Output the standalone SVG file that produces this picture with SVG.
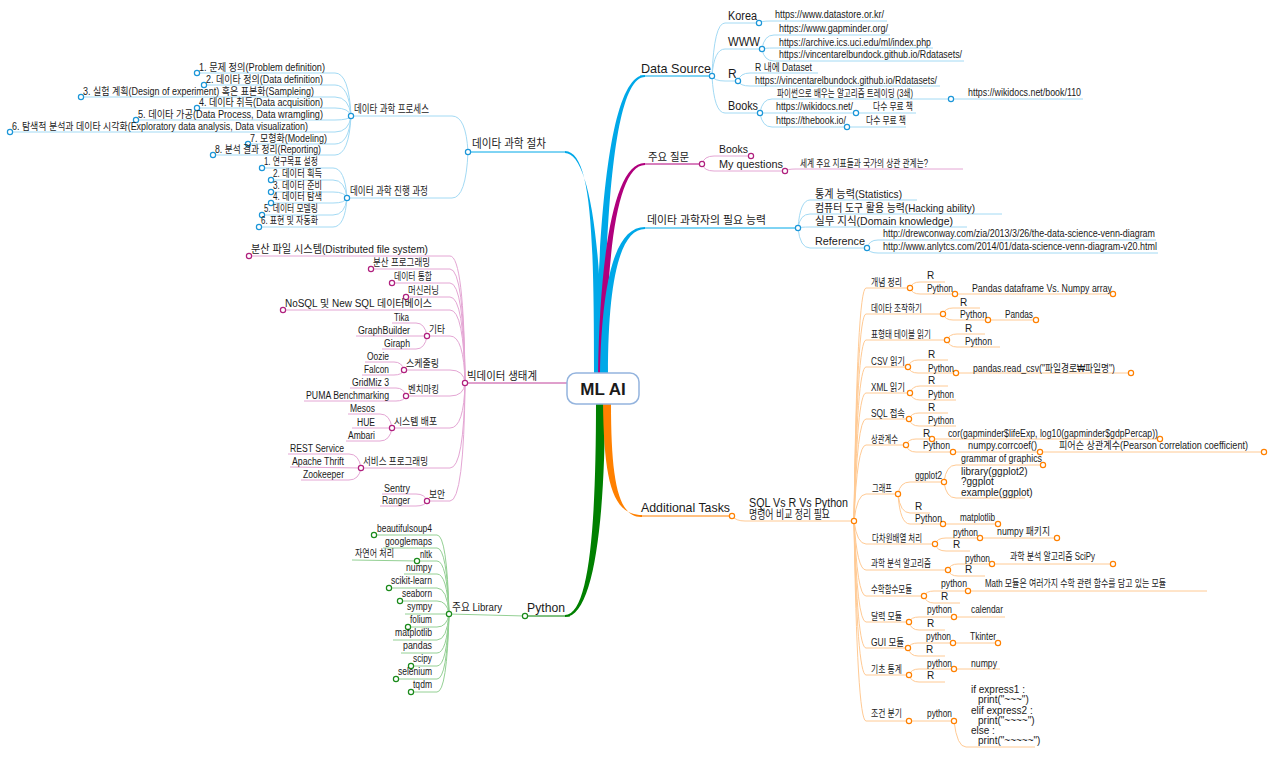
<svg xmlns="http://www.w3.org/2000/svg" width="1280" height="757" viewBox="0 0 1280 757">
<style>
text{font-family:"Liberation Sans","Noto Sans CJK KR",sans-serif;fill:#1a1a1a;font-size:10px}
.s11{font-size:11px}.s12{font-size:12px}.s13{font-size:13px}
.lb{fill:none;stroke:#a3daf4;stroke-width:1}
.lm{fill:none;stroke:#e4a6d4;stroke-width:1}
.lg{fill:none;stroke:#94d094;stroke-width:1}
.lo{fill:none;stroke:#ffca94;stroke-width:1}
.cb{fill:#fff;stroke:#1b96d8;stroke-width:1.2}
.cm{fill:#fff;stroke:#b0207e;stroke-width:1.2}
.cg{fill:#fff;stroke:#1a8a1a;stroke-width:1.2}
.co{fill:#fff;stroke:#ff8000;stroke-width:1.2}
</style>
<rect width="1280" height="757" fill="#fff"/>
<g id="connectors">
<!-- thick main branches -->
<path fill="#00a8e8" d="M594 374 C594 230 591 152 565 151 L565 153 C587 153 602 230 602 374 Z"/>
<path fill="#00a8e8" d="M596 374 C598 200 612 75 645 75 L645 77 C616 77 605 200 604 374 Z"/>
<path fill="#b0007c" d="M598 374 C600 250 615 162 645 163 L645 165 C618 165 606 250 606 374 Z"/>
<path fill="#00a8e8" d="M600 374 C602 280 615 227 645 227 L645 229 C620 229 608 280 608 374 Z"/>
<path fill="#008000" d="M596 403 C596 520 590 615 565 615 L565 617 C594 617 605 520 605 403 Z"/>
<path fill="#ff8000" d="M603 403 C604 480 612 515 642 515 L642 517 C618 518 611 480 611 403 Z"/>
<!-- level 1 underlines -->
<path fill="none" stroke="#00a8e8" d="M565 152 L468 152"/>
<path fill="none" stroke="#00a8e8" d="M640 76 L712 76"/>
<path fill="none" stroke="#b0007c" d="M645 164 L702 164"/>
<path fill="none" stroke="#00a8e8" d="M645 228 L798 228"/>
<path fill="none" stroke="#008000" d="M570 616 L525 616"/>
<path fill="none" stroke="#ff8000" d="M640 516 L732 516"/>
<path fill="none" stroke="#c0409a" d="M567 383 L465 383"/>
<!-- data science procedure -->
<path class="lb" d="M468 152 Q466 116 452 116 L351 116"/>
<path class="lb" d="M468 152 Q466 198 452 198 L347 198"/>
<path class="lb" d="M351 116 Q349 73 335 73 L197 73"/>
<path class="lb" d="M351 116 Q349 85 335 85 L204 85"/>
<path class="lb" d="M351 116 Q349 97 335 97 L81 97"/>
<path class="lb" d="M351 116 Q349 108 335 108 L197 108"/>
<path class="lb" d="M351 116 Q349 120 335 120 L136 120"/>
<path class="lb" d="M351 116 Q349 132 335 132 L10 132"/>
<path class="lb" d="M351 116 Q349 144 335 144 L248 144"/>
<path class="lb" d="M351 116 Q349 155 335 155 L213 155"/>
<path class="lb" d="M347 198 Q345 168 333 168 L262 168"/>
<path class="lb" d="M347 198 Q345 180 333 180 L271 180"/>
<path class="lb" d="M347 198 Q345 192 333 192 L271 192"/>
<path class="lb" d="M347 198 Q345 203 333 203 L271 203"/>
<path class="lb" d="M347 198 Q345 215 333 215 L262 215"/>
<path class="lb" d="M347 198 Q345 227 333 227 L259 227"/>
<!-- big data -->
<path class="lm" d="M465 383 Q464 256 450 256 L249 256"/>
<path class="lm" d="M465 383 Q464 269 450 269 L371 269"/>
<path class="lm" d="M465 383 Q464 283 450 283 L392 283"/>
<path class="lm" d="M465 383 Q464 297 450 297 L406 297"/>
<path class="lm" d="M465 383 Q464 310 450 310 L283 310"/>
<path class="lm" d="M465 383 Q464 336 450 336 L427 336"/>
<path class="lm" d="M465 383 Q464 370 450 370 L404 370"/>
<path class="lm" d="M465 383 Q464 396 450 396 L406 396"/>
<path class="lm" d="M465 383 Q464 428 450 428 L392 428"/>
<path class="lm" d="M465 383 Q464 468 450 468 L361 468"/>
<path class="lm" d="M465 383 Q464 501 450 501 L427 501"/>
<path class="lm" d="M427 336 Q425 323 416 323 L392 323"/>
<path class="lm" d="M427 336 L356 336"/>
<path class="lm" d="M427 336 Q425 349 416 349 L382 349"/>
<path class="lm" d="M404 370 Q402 362 394 362 L365 362"/>
<path class="lm" d="M404 370 Q402 375 394 375 L362 375"/>
<path class="lm" d="M406 396 Q404 388 396 388 L350 388"/>
<path class="lm" d="M406 396 Q404 401 396 401 L304 401"/>
<path class="lm" d="M392 428 Q390 414 380 414 L348 414"/>
<path class="lm" d="M392 428 L352 428"/>
<path class="lm" d="M392 428 Q390 441 380 441 L346 441"/>
<path class="lm" d="M361 468 Q359 454 349 454 L288 454"/>
<path class="lm" d="M361 468 L290 467"/>
<path class="lm" d="M361 468 Q359 480 349 480 L301 480"/>
<path class="lm" d="M427 501 Q425 494 416 494 L382 494"/>
<path class="lm" d="M427 501 Q425 506 416 506 L380 506"/>
<!-- python -->
<path class="lg" d="M525 616 L449 614"/>
<path class="lg" d="M449 614 Q447 535 437 535 L374 535"/>
<path class="lg" d="M449 614 Q447 548 437 548 L383 548"/>
<path class="lg" d="M449 614 Q447 561 437 561 L417 561"/>
<path class="lg" d="M417 561 L352 560"/>
<path class="lg" d="M449 614 Q447 574 437 574 L404 574"/>
<path class="lg" d="M449 614 Q447 588 437 588 L389 588"/>
<path class="lg" d="M449 614 Q447 601 437 601 L400 601"/>
<path class="lg" d="M449 614 L405 614"/>
<path class="lg" d="M449 614 Q447 627 437 627 L408 627"/>
<path class="lg" d="M449 614 Q447 640 437 640 L393 640"/>
<path class="lg" d="M449 614 Q447 653 437 653 L401 653"/>
<path class="lg" d="M449 614 Q447 666 437 666 L411 666"/>
<path class="lg" d="M449 614 Q447 679 437 679 L396 679"/>
<path class="lg" d="M449 614 Q447 692 437 692 L411 692"/>
<!-- data source -->
<path class="lb" d="M712 76 Q714 23 725 23 L759 23"/>
<path class="lb" d="M712 76 Q714 49 725 49 L762 49"/>
<path class="lb" d="M712 76 Q714 81 725 81 L738 81"/>
<path class="lb" d="M712 76 Q714 113 725 113 L760 113"/>
<path class="lb" d="M759 23 Q761 21 770 21 L887 21"/>
<path class="lb" d="M762 49 Q764 35 774 35 L890 35"/>
<path class="lb" d="M762 49 Q764 48 774 48 L933 48"/>
<path class="lb" d="M762 49 Q764 61 774 61 L964 61"/>
<path class="lb" d="M738 81 Q740 73 750 73 L818 73"/>
<path class="lb" d="M738 81 Q740 86 750 86 L940 86"/>
<path class="lb" d="M760 113 Q762 99 772 99 L951 99"/>
<path class="lb" d="M760 113 L856 113"/>
<path class="lb" d="M760 113 Q762 127 772 127 L847 127"/>
<path class="lb" d="M951 99 L1083 99"/>
<path class="lb" d="M856 113 L916 113"/>
<path class="lb" d="M847 127 L906 127"/>
<!-- questions -->
<path class="lm" d="M702 164 Q704 156 714 156 L751 156"/>
<path class="lm" d="M702 164 Q704 171 714 171 L785 171"/>
<path class="lm" d="M785 171 Q787 169 796 169 L963 169"/>
<!-- abilities -->
<path class="lb" d="M798 228 Q800 200 810 200 L917 200"/>
<path class="lb" d="M798 228 Q800 214 810 214 L1002 214"/>
<path class="lb" d="M798 228 Q800 227 810 227 L967 227"/>
<path class="lb" d="M798 228 Q800 248 810 248 L867 248"/>
<path class="lb" d="M867 248 Q869 240 878 240 L1156 240"/>
<path class="lb" d="M867 248 Q869 253 878 253 L1158 253"/>
<!-- additional tasks -->
<path class="lo" d="M732 516 Q736 521 745 521 L854 521"/>
<path class="lo" d="M854 521 Q857 288 866 288 L910 288"/>
<path class="lo" d="M854 521 Q857 314 866 314 L943 314"/>
<path class="lo" d="M854 521 Q857 340 866 340 L947 340"/>
<path class="lo" d="M854 521 Q857 367 866 367 L908 367"/>
<path class="lo" d="M854 521 Q857 393 866 393 L910 393"/>
<path class="lo" d="M854 521 Q857 419 866 419 L909 419"/>
<path class="lo" d="M854 521 Q857 445 866 445 L906 445"/>
<path class="lo" d="M854 521 Q857 494 866 494 L898 494"/>
<path class="lo" d="M854 521 Q857 544 866 544 L935 544"/>
<path class="lo" d="M854 521 Q857 570 866 570 L948 570"/>
<path class="lo" d="M854 521 Q857 596 866 596 L924 596"/>
<path class="lo" d="M854 521 Q857 622 866 622 L909 622"/>
<path class="lo" d="M854 521 Q857 648 866 648 L908 648"/>
<path class="lo" d="M854 521 Q857 675 866 675 L909 675"/>
<path class="lo" d="M854 521 Q857 721 866 721 L909 721"/>
<path class="lo" d="M910 288 Q912 282 920 282 L945 282"/>
<path class="lo" d="M910 288 Q912 294 920 294 L955 294"/>
<path class="lo" d="M955 294 L1113 294"/>
<path class="lo" d="M943 314 Q945 308 953 308 L980 308"/>
<path class="lo" d="M943 314 Q945 320 953 320 L988 320"/>
<path class="lo" d="M988 320 L1036 320"/>
<path class="lo" d="M947 340 Q949 334 957 334 L985 334"/>
<path class="lo" d="M947 340 Q949 347 957 347 L1000 347"/>
<path class="lo" d="M908 367 Q910 360 918 360 L948 360"/>
<path class="lo" d="M908 367 Q910 373 918 373 L956 373"/>
<path class="lo" d="M956 373 L1131 373"/>
<path class="lo" d="M910 393 Q912 386 920 386 L948 386"/>
<path class="lo" d="M910 393 Q912 400 920 400 L956 400"/>
<path class="lo" d="M909 419 Q911 413 919 413 L948 413"/>
<path class="lo" d="M909 419 Q911 426 919 426 L956 426"/>
<path class="lo" d="M906 445 Q908 439 916 439 L932 439"/>
<path class="lo" d="M906 445 Q908 452 916 452 L953 452"/>
<path class="lo" d="M932 439 L1160 439"/>
<path class="lo" d="M953 452 L1040 452 L1264 452"/>
<path class="lo" d="M898 494 Q900 482 910 482 L944 482"/>
<path class="lo" d="M898 494 Q900 513 910 513 L930 513"/>
<path class="lo" d="M898 494 Q900 524 910 524 L943 524"/>
<path class="lo" d="M944 482 Q946 465 956 465 L1043 465"/>
<path class="lo" d="M944 482 Q946 498 956 498 L1025 498"/>
<path class="lo" d="M943 524 L998 524"/>
<path class="lo" d="M935 544 Q937 538 946 538 L980 538"/>
<path class="lo" d="M935 544 Q937 551 946 551 L970 551"/>
<path class="lo" d="M980 538 L1057 538"/>
<path class="lo" d="M948 570 Q950 564 958 564 L992 564"/>
<path class="lo" d="M948 570 Q950 576 958 576 L985 576"/>
<path class="lo" d="M992 564 L1113 564"/>
<path class="lo" d="M924 596 Q926 591 934 591 L968 591"/>
<path class="lo" d="M924 596 Q926 603 934 603 L960 603"/>
<path class="lo" d="M968 591 L1207 591"/>
<path class="lo" d="M909 622 Q911 617 919 617 L954 617"/>
<path class="lo" d="M909 622 Q911 630 919 630 L945 630"/>
<path class="lo" d="M954 617 L1005 617"/>
<path class="lo" d="M908 648 Q910 643 918 643 L953 643"/>
<path class="lo" d="M908 648 Q910 656 918 656 L945 656"/>
<path class="lo" d="M953 643 L998 643"/>
<path class="lo" d="M909 675 Q911 669 919 669 L954 669"/>
<path class="lo" d="M909 675 Q911 682 919 682 L945 682"/>
<path class="lo" d="M954 669 L1000 669"/>
<path class="lo" d="M909 721 L954 721"/>
<path class="lo" d="M954 721 Q957 747 966 747 L1035 747"/>
</g>

<g id="center">
<rect x="567" y="373" width="72" height="31" rx="9" fill="#fff" stroke="#94b4de" stroke-width="1.5"/>
<text x="603" y="395" text-anchor="middle" style="font-size:17px;font-weight:bold" fill="#000">ML AI</text>
</g>

<!-- top-left -->
<g id="n-procedure"><circle class="cb" cx="468" cy="152" r="2.6"/><text class="s12" x="472" y="148" textLength="74" lengthAdjust="spacingAndGlyphs">데이타 과학 절차</text></g>
<g id="n-process"><circle class="cb" cx="351" cy="116" r="2.6"/><text class="s11" x="354" y="113" textLength="75" lengthAdjust="spacingAndGlyphs">데이타 과학 프로세스</text></g>
<g id="n-p1"><circle class="cb" cx="197" cy="73" r="2.6"/><text x="199" y="71" textLength="126" lengthAdjust="spacingAndGlyphs">1. 문제 정의(Problem definition)</text></g>
<g id="n-p2"><circle class="cb" cx="204" cy="85" r="2.6"/><text x="206" y="83" textLength="117" lengthAdjust="spacingAndGlyphs">2. 데이타 정의(Data definition)</text></g>
<g id="n-p3"><circle class="cb" cx="81" cy="97" r="2.6"/><text x="83" y="95" textLength="231" lengthAdjust="spacingAndGlyphs">3. 실험 계획(Design of experiment) 혹은 표본화(Sampleing)</text></g>
<g id="n-p4"><circle class="cb" cx="197" cy="108" r="2.6"/><text x="199" y="106" textLength="124" lengthAdjust="spacingAndGlyphs">4. 데이타 취득(Data acquisition)</text></g>
<g id="n-p5"><circle class="cb" cx="136" cy="120" r="2.6"/><text x="138" y="118" textLength="185" lengthAdjust="spacingAndGlyphs">5. 데이타 가공(Data Process, Data wramgling)</text></g>
<g id="n-p6"><circle class="cb" cx="10" cy="132" r="2.6"/><text x="12" y="130" textLength="296" lengthAdjust="spacingAndGlyphs">6. 탐색적 분석과 데이타 시각화(Exploratory data analysis, Data visualization)</text></g>
<g id="n-p7"><circle class="cb" cx="248" cy="144" r="2.6"/><text x="250" y="142" textLength="77" lengthAdjust="spacingAndGlyphs">7. 모형화(Modeling)</text></g>
<g id="n-p8"><circle class="cb" cx="213" cy="155" r="2.6"/><text x="215" y="153" textLength="106" lengthAdjust="spacingAndGlyphs">8. 분석 결과 정리(Reporting)</text></g>
<g id="n-progress"><circle class="cb" cx="347" cy="198" r="2.6"/><text class="s11" x="350" y="195" textLength="78" lengthAdjust="spacingAndGlyphs">데이터 과학 진행 과정</text></g>
<g id="n-q1"><circle class="cb" cx="262" cy="168" r="2.6"/><text x="264" y="165" textLength="54" lengthAdjust="spacingAndGlyphs">1. 연구목표 설정</text></g>
<g id="n-q2"><circle class="cb" cx="271" cy="180" r="2.6"/><text x="273" y="177" textLength="49" lengthAdjust="spacingAndGlyphs">2. 데이터 획득</text></g>
<g id="n-q3"><circle class="cb" cx="271" cy="192" r="2.6"/><text x="273" y="189" textLength="49" lengthAdjust="spacingAndGlyphs">3. 데이터 준비</text></g>
<g id="n-q4"><circle class="cb" cx="271" cy="203" r="2.6"/><text x="273" y="200" textLength="49" lengthAdjust="spacingAndGlyphs">4. 데이터 탐색</text></g>
<g id="n-q5"><circle class="cb" cx="262" cy="215" r="2.6"/><text x="264" y="212" textLength="54" lengthAdjust="spacingAndGlyphs">5. 데이터 모델링</text></g>
<g id="n-q6"><circle class="cb" cx="259" cy="227" r="2.6"/><text x="261" y="224" textLength="57" lengthAdjust="spacingAndGlyphs">6. 표현 및 자동화</text></g>

<!-- big data -->
<g id="n-bigdata"><circle class="cm" cx="465" cy="383" r="2.6"/><text class="s11" x="467" y="380" textLength="70" lengthAdjust="spacingAndGlyphs">빅데이터 생태계</text></g>
<g id="n-b1"><circle class="cm" cx="249" cy="256" r="2.6"/><text class="s11" x="251" y="253" textLength="177" lengthAdjust="spacingAndGlyphs">분산 파일 시스템(Distributed file system)</text></g>
<g id="n-b2"><circle class="cm" cx="371" cy="269" r="2.6"/><text x="373" y="266" textLength="57" lengthAdjust="spacingAndGlyphs">분산 프로그래밍</text></g>
<g id="n-b3"><circle class="cm" cx="392" cy="283" r="2.6"/><text x="394" y="280" textLength="38" lengthAdjust="spacingAndGlyphs">데이터 통합</text></g>
<g id="n-b4"><circle class="cm" cx="406" cy="297" r="2.6"/><text x="408" y="294" textLength="31" lengthAdjust="spacingAndGlyphs">머신러닝</text></g>
<g id="n-b5"><circle class="cm" cx="283" cy="310" r="2.6"/><text x="285" y="307" textLength="147" lengthAdjust="spacingAndGlyphs">NoSQL 및 New SQL 데이터베이스</text></g>
<g id="n-b6"><circle class="cm" cx="427" cy="336" r="2.6"/><text x="429" y="333" textLength="16" lengthAdjust="spacingAndGlyphs">기타</text></g>
<g id="n-tika"><text x="394" y="321" textLength="15" lengthAdjust="spacingAndGlyphs">Tika</text></g>
<g id="n-graphbuilder"><text x="358" y="334" textLength="52" lengthAdjust="spacingAndGlyphs">GraphBuilder</text></g>
<g id="n-giraph"><text x="384" y="347" textLength="26" lengthAdjust="spacingAndGlyphs">Giraph</text></g>
<g id="n-b7"><circle class="cm" cx="404" cy="370" r="2.6"/><text x="406" y="367" textLength="33" lengthAdjust="spacingAndGlyphs">스케줄링</text></g>
<g id="n-oozie"><text x="367" y="360" textLength="22" lengthAdjust="spacingAndGlyphs">Oozie</text></g>
<g id="n-falcon"><text x="364" y="373" textLength="25" lengthAdjust="spacingAndGlyphs">Falcon</text></g>
<g id="n-b8"><circle class="cm" cx="406" cy="396" r="2.6"/><text x="408" y="393" textLength="31" lengthAdjust="spacingAndGlyphs">벤치마킹</text></g>
<g id="n-gridmiz"><text x="352" y="386" textLength="37" lengthAdjust="spacingAndGlyphs">GridMiz 3</text></g>
<g id="n-puma"><text x="306" y="399" textLength="83" lengthAdjust="spacingAndGlyphs">PUMA Benchmarking</text></g>
<g id="n-b9"><circle class="cm" cx="392" cy="428" r="2.6"/><text x="394" y="425" textLength="43" lengthAdjust="spacingAndGlyphs">시스템 배포</text></g>
<g id="n-mesos"><text x="350" y="412" textLength="25" lengthAdjust="spacingAndGlyphs">Mesos</text></g>
<g id="n-hue"><text x="357" y="426" textLength="18" lengthAdjust="spacingAndGlyphs">HUE</text></g>
<g id="n-ambari"><text x="348" y="439" textLength="27" lengthAdjust="spacingAndGlyphs">Ambari</text></g>
<g id="n-b10"><circle class="cm" cx="361" cy="468" r="2.6"/><text x="363" y="465" textLength="65" lengthAdjust="spacingAndGlyphs">서비스 프로그래밍</text></g>
<g id="n-rest"><text x="290" y="452" textLength="54" lengthAdjust="spacingAndGlyphs">REST Service</text></g>
<g id="n-thrift"><text x="292" y="465" textLength="52" lengthAdjust="spacingAndGlyphs">Apache Thrift</text></g>
<g id="n-zookeeper"><text x="303" y="478" textLength="41" lengthAdjust="spacingAndGlyphs">Zookeeper</text></g>
<g id="n-b11"><circle class="cm" cx="427" cy="501" r="2.6"/><text x="429" y="498" textLength="16" lengthAdjust="spacingAndGlyphs">보안</text></g>
<g id="n-sentry"><text x="384" y="492" textLength="26" lengthAdjust="spacingAndGlyphs">Sentry</text></g>
<g id="n-ranger"><text x="382" y="504" textLength="28" lengthAdjust="spacingAndGlyphs">Ranger</text></g>

<!-- python -->
<g id="n-python"><circle class="cg" cx="525" cy="616" r="2.6"/><text class="s13" x="527" y="612" textLength="38" lengthAdjust="spacingAndGlyphs">Python</text></g>
<g id="n-library"><circle class="cg" cx="449" cy="614" r="2.6"/><text class="s11" x="452" y="611" textLength="50" lengthAdjust="spacingAndGlyphs">주요 Library</text></g>
<g id="n-bs4"><circle class="cg" cx="374" cy="535" r="2.6"/><text x="377" y="532" textLength="55" lengthAdjust="spacingAndGlyphs">beautifulsoup4</text></g>
<g id="n-googlemaps"><text x="385" y="545" textLength="47" lengthAdjust="spacingAndGlyphs">googlemaps</text></g>
<g id="n-nltk"><circle class="cg" cx="417" cy="561" r="2.6"/><text x="420" y="558" textLength="12" lengthAdjust="spacingAndGlyphs">nltk</text></g>
<g id="n-nlp"><text x="355" y="557" textLength="39" lengthAdjust="spacingAndGlyphs">자연어 처리</text></g>
<g id="n-numpy"><text x="406" y="571" textLength="26" lengthAdjust="spacingAndGlyphs">numpy</text></g>
<g id="n-sklearn"><circle class="cg" cx="389" cy="588" r="2.6"/><text x="391" y="584" textLength="41" lengthAdjust="spacingAndGlyphs">scikit-learn</text></g>
<g id="n-seaborn"><circle class="cg" cx="400" cy="601" r="2.6"/><text x="402" y="597" textLength="30" lengthAdjust="spacingAndGlyphs">seaborn</text></g>
<g id="n-sympy"><text x="407" y="610" textLength="25" lengthAdjust="spacingAndGlyphs">sympy</text></g>
<g id="n-folium"><circle class="cg" cx="408" cy="627" r="2.6"/><text x="410" y="623" textLength="22" lengthAdjust="spacingAndGlyphs">folium</text></g>
<g id="n-matplotlib"><text x="395" y="636" textLength="37" lengthAdjust="spacingAndGlyphs">matplotlib</text></g>
<g id="n-pandas"><text x="403" y="649" textLength="29" lengthAdjust="spacingAndGlyphs">pandas</text></g>
<g id="n-scipy"><circle class="cg" cx="411" cy="666" r="2.6"/><text x="413" y="662" textLength="19" lengthAdjust="spacingAndGlyphs">scipy</text></g>
<g id="n-selenium"><circle class="cg" cx="396" cy="679" r="2.6"/><text x="398" y="675" textLength="34" lengthAdjust="spacingAndGlyphs">selenium</text></g>
<g id="n-tqdm"><circle class="cg" cx="411" cy="692" r="2.6"/><text x="413" y="688" textLength="19" lengthAdjust="spacingAndGlyphs">tqdm</text></g>

<!-- data source -->
<g id="n-datasource"><circle class="cb" cx="712" cy="76" r="2.6"/><text class="s13" x="641" y="73" textLength="70" lengthAdjust="spacingAndGlyphs">Data Source</text></g>
<g id="n-korea"><circle class="cb" cx="759" cy="23" r="2.6"/><text class="s12" x="728" y="20" textLength="29" lengthAdjust="spacingAndGlyphs">Korea</text></g>
<g id="n-datastore"><text x="775" y="18" textLength="109" lengthAdjust="spacingAndGlyphs">https://www.datastore.or.kr/</text></g>
<g id="n-www"><circle class="cb" cx="762" cy="49" r="2.6"/><text class="s12" x="728" y="46" textLength="32" lengthAdjust="spacingAndGlyphs">WWW</text></g>
<g id="n-gapminder"><text x="779" y="32" textLength="109" lengthAdjust="spacingAndGlyphs">https://www.gapminder.org/</text></g>
<g id="n-uci"><text x="779" y="46" textLength="152" lengthAdjust="spacingAndGlyphs">https://archive.ics.uci.edu/ml/index.php</text></g>
<g id="n-vincent1"><text x="779" y="58" textLength="183" lengthAdjust="spacingAndGlyphs">https://vincentarelbundock.github.io/Rdatasets/</text></g>
<g id="n-r"><circle class="cb" cx="738" cy="81" r="2.6"/><text class="s12" x="728" y="78">R</text></g>
<g id="n-rdataset"><text x="755" y="71" textLength="57" lengthAdjust="spacingAndGlyphs">R 내에 Dataset</text></g>
<g id="n-vincent2"><text x="755" y="84" textLength="182" lengthAdjust="spacingAndGlyphs">https://vincentarelbundock.github.io/Rdatasets/</text></g>
<g id="n-books"><circle class="cb" cx="760" cy="113" r="2.6"/><text class="s12" x="728" y="110" textLength="30" lengthAdjust="spacingAndGlyphs">Books</text></g>
<g id="n-trading"><circle class="cb" cx="951" cy="99" r="2.6"/><text x="777" y="97" textLength="136" lengthAdjust="spacingAndGlyphs">파이썬으로 배우는 알고리즘 트레이딩 (3쇄)</text></g>
<g id="n-wikibook"><text x="968" y="96" textLength="113" lengthAdjust="spacingAndGlyphs">https://wikidocs.net/book/110</text></g>
<g id="n-wikidocs"><circle class="cb" cx="856" cy="113" r="2.6"/><text x="776" y="110" textLength="77" lengthAdjust="spacingAndGlyphs">https://wikidocs.net/</text></g>
<g id="n-free1"><text x="873" y="110" textLength="40" lengthAdjust="spacingAndGlyphs">다수 무료 책</text></g>
<g id="n-thebook"><circle class="cb" cx="847" cy="127" r="2.6"/><text x="776" y="124" textLength="70" lengthAdjust="spacingAndGlyphs">https://thebook.io/</text></g>
<g id="n-free2"><text x="866" y="124" textLength="40" lengthAdjust="spacingAndGlyphs">다수 무료 책</text></g>

<!-- questions -->
<g id="n-questions"><circle class="cm" cx="702" cy="164" r="2.6"/><text class="s11" x="648" y="161" textLength="41" lengthAdjust="spacingAndGlyphs">주요 질문</text></g>
<g id="n-qbooks"><circle class="cm" cx="751" cy="156" r="2.6"/><text class="s11" x="719" y="153" textLength="29" lengthAdjust="spacingAndGlyphs">Books</text></g>
<g id="n-myq"><circle class="cm" cx="785" cy="171" r="2.6"/><text class="s11" x="719" y="168" textLength="64" lengthAdjust="spacingAndGlyphs">My questions</text></g>
<g id="n-world"><text x="800" y="167" textLength="128" lengthAdjust="spacingAndGlyphs">세계 주요 지표들과 국가의 상관 관계는?</text></g>

<!-- abilities -->
<g id="n-abilities"><circle class="cb" cx="798" cy="228" r="2.6"/><text class="s11" x="647" y="224" textLength="119" lengthAdjust="spacingAndGlyphs">데이타 과학자의 필요 능력</text></g>
<g id="n-stat"><text class="s11" x="815" y="198" textLength="87" lengthAdjust="spacingAndGlyphs">통계 능력(Statistics)</text></g>
<g id="n-hack"><text class="s11" x="815" y="212" textLength="160" lengthAdjust="spacingAndGlyphs">컴퓨터 도구 활용 능력(Hacking ability)</text></g>
<g id="n-domain"><text class="s11" x="815" y="225" textLength="138" lengthAdjust="spacingAndGlyphs">실무 지식(Domain knowledge)</text></g>
<g id="n-reference"><circle class="cb" cx="867" cy="248" r="2.6"/><text class="s11" x="815" y="245" textLength="50" lengthAdjust="spacingAndGlyphs">Reference</text></g>
<g id="n-drew"><text x="883" y="237" textLength="272" lengthAdjust="spacingAndGlyphs">http://drewconway.com/zia/2013/3/26/the-data-science-venn-diagram</text></g>
<g id="n-anlytcs"><text x="883" y="250" textLength="274" lengthAdjust="spacingAndGlyphs">http://www.anlytcs.com/2014/01/data-science-venn-diagram-v20.html</text></g>

<!-- additional tasks -->
<g id="n-additional"><circle class="co" cx="732" cy="516" r="2.6"/><text class="s13" x="641" y="512" textLength="89" lengthAdjust="spacingAndGlyphs">Additional Tasks</text></g>
<g id="n-sqlvs"><circle class="co" cx="854" cy="521" r="2.6"/><text class="s12" x="749" y="507" textLength="99" lengthAdjust="spacingAndGlyphs">SQL Vs R Vs Python</text><text class="s12" x="749" y="519" textLength="81" lengthAdjust="spacingAndGlyphs">명령어 비교 정리 필요</text></g>

<g id="n-concept"><circle class="co" cx="910" cy="288" r="2.6"/><text x="871" y="286" textLength="31" lengthAdjust="spacingAndGlyphs">개념 정리</text></g>
<g id="n-concept-r"><text x="927" y="279">R</text></g>
<g id="n-concept-py"><circle class="co" cx="955" cy="294" r="2.6"/><text x="927" y="292" textLength="26" lengthAdjust="spacingAndGlyphs">Python</text></g>
<g id="n-dfvs"><circle class="co" cx="1113" cy="294" r="2.6"/><text x="972" y="292" textLength="140" lengthAdjust="spacingAndGlyphs">Pandas dataframe Vs. Numpy array</text></g>

<g id="n-manip"><circle class="co" cx="943" cy="314" r="2.6"/><text x="871" y="312" textLength="51" lengthAdjust="spacingAndGlyphs">데이타 조작하기</text></g>
<g id="n-manip-r"><text x="960" y="306">R</text></g>
<g id="n-manip-py"><circle class="co" cx="988" cy="320" r="2.6"/><text x="960" y="318" textLength="27" lengthAdjust="spacingAndGlyphs">Python</text></g>
<g id="n-manip-pandas"><circle class="co" cx="1036" cy="320" r="2.6"/><text x="1005" y="318" textLength="28" lengthAdjust="spacingAndGlyphs">Pandas</text></g>

<g id="n-table"><circle class="co" cx="947" cy="340" r="2.6"/><text x="871" y="338" textLength="60" lengthAdjust="spacingAndGlyphs">표형태 테이블 읽기</text></g>
<g id="n-table-r"><text x="965" y="332">R</text></g>
<g id="n-table-py"><text x="965" y="345" textLength="27" lengthAdjust="spacingAndGlyphs">Python</text></g>

<g id="n-csv"><circle class="co" cx="908" cy="367" r="2.6"/><text x="871" y="365" textLength="34" lengthAdjust="spacingAndGlyphs">CSV 읽기</text></g>
<g id="n-csv-r"><text x="928" y="358">R</text></g>
<g id="n-csv-py"><circle class="co" cx="956" cy="373" r="2.6"/><text x="928" y="372" textLength="26" lengthAdjust="spacingAndGlyphs">Python</text></g>
<g id="n-readcsv"><circle class="co" cx="1131" cy="373" r="2.6"/><text x="973" y="372" textLength="142" lengthAdjust="spacingAndGlyphs">pandas.read_csv("파일경로₩파일명")</text></g>

<g id="n-xml"><circle class="co" cx="910" cy="393" r="2.6"/><text x="871" y="391" textLength="34" lengthAdjust="spacingAndGlyphs">XML 읽기</text></g>
<g id="n-xml-r"><text x="928" y="384">R</text></g>
<g id="n-xml-py"><text x="928" y="398" textLength="26" lengthAdjust="spacingAndGlyphs">Python</text></g>

<g id="n-sql"><circle class="co" cx="909" cy="419" r="2.6"/><text x="871" y="417" textLength="34" lengthAdjust="spacingAndGlyphs">SQL 접속</text></g>
<g id="n-sql-r"><text x="928" y="411">R</text></g>
<g id="n-sql-py"><text x="928" y="424" textLength="26" lengthAdjust="spacingAndGlyphs">Python</text></g>

<g id="n-corr"><circle class="co" cx="906" cy="445" r="2.6"/><text x="871" y="443" textLength="27" lengthAdjust="spacingAndGlyphs">상관계수</text></g>
<g id="n-corr-r"><circle class="co" cx="932" cy="439" r="2.6"/><text x="923" y="437">R</text></g>
<g id="n-cor"><circle class="co" cx="1160" cy="439" r="2.6"/><text x="948" y="437" textLength="210" lengthAdjust="spacingAndGlyphs">cor(gapminder$lifeExp, log10(gapminder$gdpPercap))</text></g>
<g id="n-corr-py"><circle class="co" cx="953" cy="452" r="2.6"/><text x="923" y="449" textLength="27" lengthAdjust="spacingAndGlyphs">Python</text></g>
<g id="n-corrcoef"><circle class="co" cx="1040" cy="452" r="2.6"/><text x="968" y="449" textLength="69" lengthAdjust="spacingAndGlyphs">numpy.corrcoef()</text></g>
<g id="n-pearson"><circle class="co" cx="1264" cy="452" r="2.6"/><text x="1059" y="449" textLength="189" lengthAdjust="spacingAndGlyphs">피어슨 상관계수(Pearson correlation coefficient)</text></g>

<g id="n-graph"><circle class="co" cx="898" cy="494" r="2.6"/><text x="872" y="492" textLength="20" lengthAdjust="spacingAndGlyphs">그래프</text></g>
<g id="n-ggplot2"><circle class="co" cx="944" cy="482" r="2.6"/><text x="915" y="479" textLength="27" lengthAdjust="spacingAndGlyphs">ggplot2</text></g>
<g id="n-grammar"><circle class="co" cx="1043" cy="465" r="2.6"/><text x="961" y="462" textLength="81" lengthAdjust="spacingAndGlyphs">grammar of graphics</text></g>
<g id="n-ggcode"><text x="961" y="475">library(ggplot2)</text><text x="961" y="485">?ggplot</text><text x="961" y="496">example(ggplot)</text></g>
<g id="n-graph-r"><text x="915" y="510">R</text></g>
<g id="n-graph-py"><circle class="co" cx="943" cy="524" r="2.6"/><text x="915" y="522" textLength="27" lengthAdjust="spacingAndGlyphs">Python</text></g>
<g id="n-graph-mpl"><circle class="co" cx="998" cy="524" r="2.6"/><text x="960" y="521" textLength="35" lengthAdjust="spacingAndGlyphs">matplotlib</text></g>

<g id="n-ndarray"><circle class="co" cx="935" cy="544" r="2.6"/><text x="872" y="542" textLength="50" lengthAdjust="spacingAndGlyphs">다차원배열 처리</text></g>
<g id="n-ndarray-py"><circle class="co" cx="980" cy="538" r="2.6"/><text x="953" y="536" textLength="25" lengthAdjust="spacingAndGlyphs">python</text></g>
<g id="n-numpypkg"><circle class="co" cx="1057" cy="538" r="2.6"/><text x="997" y="535" textLength="53" lengthAdjust="spacingAndGlyphs">numpy 패키지</text></g>
<g id="n-ndarray-r"><text x="953" y="548">R</text></g>

<g id="n-sci"><circle class="co" cx="948" cy="570" r="2.6"/><text x="871" y="567" textLength="60" lengthAdjust="spacingAndGlyphs">과학 분석 알고리즘</text></g>
<g id="n-sci-py"><circle class="co" cx="992" cy="564" r="2.6"/><text x="965" y="562" textLength="25" lengthAdjust="spacingAndGlyphs">python</text></g>
<g id="n-scipy-alg"><circle class="co" cx="1113" cy="564" r="2.6"/><text x="1010" y="560" textLength="85" lengthAdjust="spacingAndGlyphs">과학 분석 알고리즘 SciPy</text></g>
<g id="n-sci-r"><text x="965" y="573">R</text></g>

<g id="n-math"><circle class="co" cx="924" cy="596" r="2.6"/><text x="871" y="593" textLength="41" lengthAdjust="spacingAndGlyphs">수학함수모듈</text></g>
<g id="n-math-py"><circle class="co" cx="968" cy="591" r="2.6"/><text x="941" y="587" textLength="26" lengthAdjust="spacingAndGlyphs">python</text></g>
<g id="n-math-desc"><text x="985" y="587" textLength="181" lengthAdjust="spacingAndGlyphs">Math 모듈은 여러가지 수학 관련 함수를 담고 있는 모듈</text></g>
<g id="n-math-r"><text x="941" y="600">R</text></g>

<g id="n-cal"><circle class="co" cx="909" cy="622" r="2.6"/><text x="871" y="620" textLength="31" lengthAdjust="spacingAndGlyphs">달력 모듈</text></g>
<g id="n-cal-py"><circle class="co" cx="954" cy="617" r="2.6"/><text x="927" y="613" textLength="25" lengthAdjust="spacingAndGlyphs">python</text></g>
<g id="n-calendar"><text x="971" y="613" textLength="32" lengthAdjust="spacingAndGlyphs">calendar</text></g>
<g id="n-cal-r"><text x="927" y="627">R</text></g>

<g id="n-gui"><circle class="co" cx="908" cy="648" r="2.6"/><text x="871" y="646" textLength="33" lengthAdjust="spacingAndGlyphs">GUI 모듈</text></g>
<g id="n-gui-py"><circle class="co" cx="953" cy="643" r="2.6"/><text x="926" y="640" textLength="25" lengthAdjust="spacingAndGlyphs">python</text></g>
<g id="n-tkinter"><circle class="co" cx="998" cy="643" r="2.6"/><text x="970" y="640" textLength="26" lengthAdjust="spacingAndGlyphs">Tkinter</text></g>
<g id="n-gui-r"><text x="926" y="653">R</text></g>

<g id="n-basic"><circle class="co" cx="909" cy="675" r="2.6"/><text x="871" y="673" textLength="31" lengthAdjust="spacingAndGlyphs">기초 통계</text></g>
<g id="n-basic-py"><circle class="co" cx="954" cy="669" r="2.6"/><text x="927" y="667" textLength="25" lengthAdjust="spacingAndGlyphs">python</text></g>
<g id="n-basic-numpy"><text x="971" y="667" textLength="26" lengthAdjust="spacingAndGlyphs">numpy</text></g>
<g id="n-basic-r"><text x="927" y="679">R</text></g>

<g id="n-branch"><circle class="co" cx="909" cy="721" r="2.6"/><text x="871" y="717" textLength="31" lengthAdjust="spacingAndGlyphs">조건 분기</text></g>
<g id="n-branch-py"><circle class="co" cx="954" cy="721" r="2.6"/><text x="927" y="717" textLength="25" lengthAdjust="spacingAndGlyphs">python</text></g>
<g id="n-ifcode"><text x="971" y="693">if express1 :</text><text x="978" y="703">print("~~~")</text><text x="971" y="714">elif express2 :</text><text x="978" y="724">print("~~~~")</text><text x="971" y="734">else :</text><text x="978" y="744">print("~~~~~")</text></g>
</svg>
